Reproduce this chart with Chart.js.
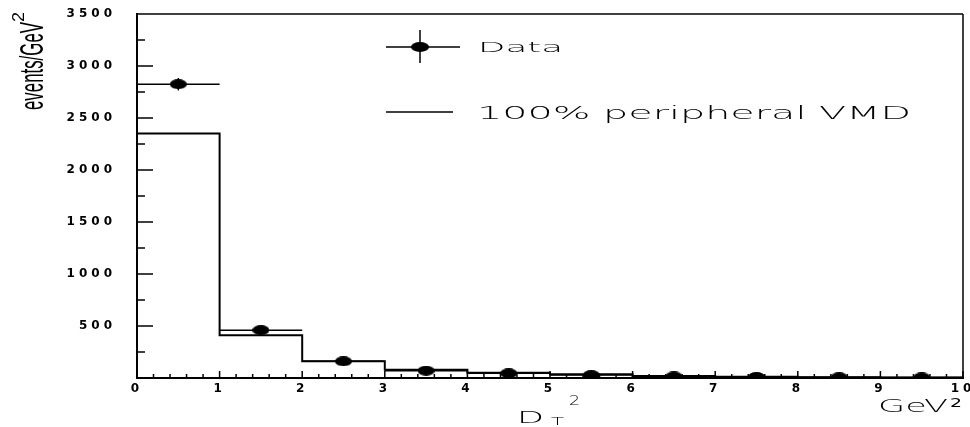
<!DOCTYPE html>
<html>
<head>
<meta charset="utf-8">
<script src="https://cdn.jsdelivr.net/npm/chart.js@4.4.1/dist/chart.umd.min.js"></script>
<style>
    html, body { margin: 0; padding: 0; background: #fff; }
    #wrap { width: 970px; height: 427px; position: relative; }
</style>
</head>
<body>
<div id="wrap"><canvas id="chart" width="970" height="427"></canvas></div>
<script>
// bins in DT^2 (GeV^2)
let binEdges = [0, 1, 2, 3, 4, 5, 6, 7, 8, 9, 10];
let binCenters = [0.5, 1.5, 2.5, 3.5, 4.5, 5.5, 6.5, 7.5, 8.5, 9.5];
let dataValues = [2825, 460, 160, 70, 45, 28, 15, 10, 7, 5];
let dataErrors = [60, 25, 14, 10, 8, 6, 5, 4, 3, 3];
let vmdValues = [2350, 410, 160, 80, 50, 35, 20, 12, 8, 5];
let xTickLabels = [0, 1, 2, 3, 4, 5, 6, 7, 8, 9, 10];
let yTickLabels = [500, 1000, 1500, 2000, 2500, 3000, 3500];


// -------- MARKER (ELLIPSE) -------- //

function makeMarker(w, h) {
    let c = document.createElement('canvas');
    c.width = w;
    c.height = h;
    let g = c.getContext('2d');
    g.fillStyle = '#000';
    g.beginPath();
    g.ellipse(w / 2, h / 2, w / 2, h / 2, 0, 0, Math.PI * 2);
    g.fill();
    return c;
}
let marker = makeMarker(17, 10);


// -------- HELPERS -------- //

function fitText(ctx, text, x, y, width, font) {
    ctx.font = font;
    let w = ctx.measureText(text).width;
    ctx.save();
    ctx.translate(x, y);
    ctx.scale(width / w, 1);
    ctx.fillText(text, 0, 0);
    ctx.restore();
}

function line(ctx, x1, y1, x2, y2) {
    ctx.beginPath();
    ctx.moveTo(x1, y1);
    ctx.lineTo(x2, y2);
    ctx.stroke();
}

// histogram outline: every bin gives a flat segment from its left to its right edge
function histogramPoints() {
    let pts = [];
    for (let i = 0; i < vmdValues.length; i++) {
        pts.push({ x: binEdges[i], y: vmdValues[i] });
        pts.push({ x: binEdges[i + 1], y: vmdValues[i] });
    }
    return pts;
}


// -------- PLUGINS -------- //

let spacingPlugin = {
    id: 'spacing',
    beforeDraw(chart) {
        chart.ctx.letterSpacing = '4px';
    },
    afterDraw(chart) {
        chart.ctx.letterSpacing = '0px';
    }
};

let errorBars = {
    id: 'errorBars',
    afterDatasetsDraw(chart) {
        let ctx = chart.ctx;
        let xs = chart.scales.x;
        let ys = chart.scales.y;
        ctx.save();
        ctx.strokeStyle = '#000';
        ctx.lineWidth = 1.5;
        for (let i = 0; i < binCenters.length; i++) {
            let py = ys.getPixelForValue(dataValues[i]);
            line(ctx, xs.getPixelForValue(binCenters[i] - 0.5), py, xs.getPixelForValue(binCenters[i] + 0.5), py);
            let px = xs.getPixelForValue(binCenters[i]);
            line(ctx, px, ys.getPixelForValue(dataValues[i] + dataErrors[i]), px, ys.getPixelForValue(dataValues[i] - dataErrors[i]));
        }
        ctx.restore();
    }
};

let decorations = {
    id: 'decorations',
    afterDraw(chart) {
        let ctx = chart.ctx;
        let a = chart.chartArea;
        let xs = chart.scales.x;
        let ys = chart.scales.y;
        ctx.save();
        ctx.letterSpacing = '0px';
        ctx.strokeStyle = '#000';
        ctx.fillStyle = '#000';

        // frame
        ctx.lineWidth = 1.5;
        line(ctx, a.left, a.top, a.right, a.top);
        line(ctx, a.right, a.top, a.right, a.bottom);

        // inner ticks
        for (let v = 250; v < 3500; v += 250) {
            let py = ys.getPixelForValue(v);
            line(ctx, a.left, py, a.left + (v % 500 === 0 ? 16 : 8), py);
        }
        for (let v = 0.2; v < 10; v += 0.2) {
            let px = xs.getPixelForValue(v);
            let major = Math.abs(v - Math.round(v)) < 0.01;
            line(ctx, px, a.bottom, px, a.bottom - (major ? 7 : 4));
        }

        // legend
        line(ctx, 386, 47, 460, 47);
        line(ctx, 420, 30, 420, 63);
        ctx.drawImage(marker, 420 - 9, 47 - 5, 18, 10);
        ctx.textBaseline = 'alphabetic';
        fitText(ctx, 'Data', 478, 52, 85, '200 14px "DejaVu Sans"');
        line(ctx, 386, 112, 453, 112);
        fitText(ctx, '100% peripheral VMD', 477, 119, 434, '200 18px "DejaVu Sans"');

        // axis titles
        fitText(ctx, 'D', 517, 423, 27, '200 15px "DejaVu Sans"');
        fitText(ctx, 'T', 551, 425, 13, '200 10px "DejaVu Sans"');
        fitText(ctx, '2', 569, 405, 11, '200 14px "DejaVu Sans"');
        fitText(ctx, 'GeV', 878, 412, 70, '200 17px "DejaVu Sans"');
        fitText(ctx, '2', 950, 407, 12, '400 13px "DejaVu Sans"');

        ctx.save();
        ctx.translate(43, 110);
        ctx.rotate(-Math.PI / 2);
        fitText(ctx, 'events/GeV', 0, 0, 88, '34px "Liberation Sans Narrow", "Liberation Sans"');
        fitText(ctx, '2', 88, -19, 10, '17px "Liberation Sans Narrow", "Liberation Sans"');
        ctx.restore();

        ctx.restore();
    }
};


// -------- CHART -------- //

function init() {
    let ctx = document.getElementById('chart');
    let tickFont = { family: 'DejaVu Sans', size: 12, weight: 'bold' };

    new Chart(ctx, {
        type: 'scatter',
        data: {
            datasets: [{
                type: 'line',
                label: '100% peripheral VMD',
                data: histogramPoints(),
                borderColor: '#000',
                borderWidth: 2,
                pointRadius: 0,
                fill: false
            }, {
                label: 'Data',
                data: binCenters.map((x, i) => ({ x: x, y: dataValues[i] })),
                pointStyle: marker,
                backgroundColor: '#000',
                borderColor: '#000'
            }]
        },
        options: {
            responsive: false,
            animation: false,
            layout: { padding: { top: 14, right: 7, left: 0, bottom: 0 } },
            plugins: {
                legend: { display: false },
                tooltip: { enabled: false }
            },
            scales: {
                x: {
                    type: 'linear',
                    min: 0,
                    max: 10,
                    grid: { display: false, drawTicks: false },
                    border: { display: true, color: '#000', width: 2 },
                    afterBuildTicks: (scale) => { scale.ticks = xTickLabels.map(v => ({ value: v })); },
                    afterFit: (scale) => { scale.height = 49; scale.paddingLeft = 0; scale.paddingRight = 0; },
                    ticks: { color: '#000', font: tickFont, padding: 4, maxRotation: 0, autoSkip: false, callback: (v) => String(v) }
                },
                y: {
                    min: 0,
                    max: 3500,
                    grid: { display: false, drawTicks: false },
                    border: { display: true, color: '#000', width: 2 },
                    afterBuildTicks: (scale) => { scale.ticks = yTickLabels.map(v => ({ value: v })); },
                    afterFit: (scale) => { scale.width = 137; scale.paddingTop = 0; scale.paddingBottom = 0; },
                    ticks: { color: '#000', font: tickFont, padding: 21, autoSkip: false, callback: (v) => String(v) }
                }
            }
        },
        plugins: [spacingPlugin, errorBars, decorations]
    });
}

init();
</script>
</body>
</html>
